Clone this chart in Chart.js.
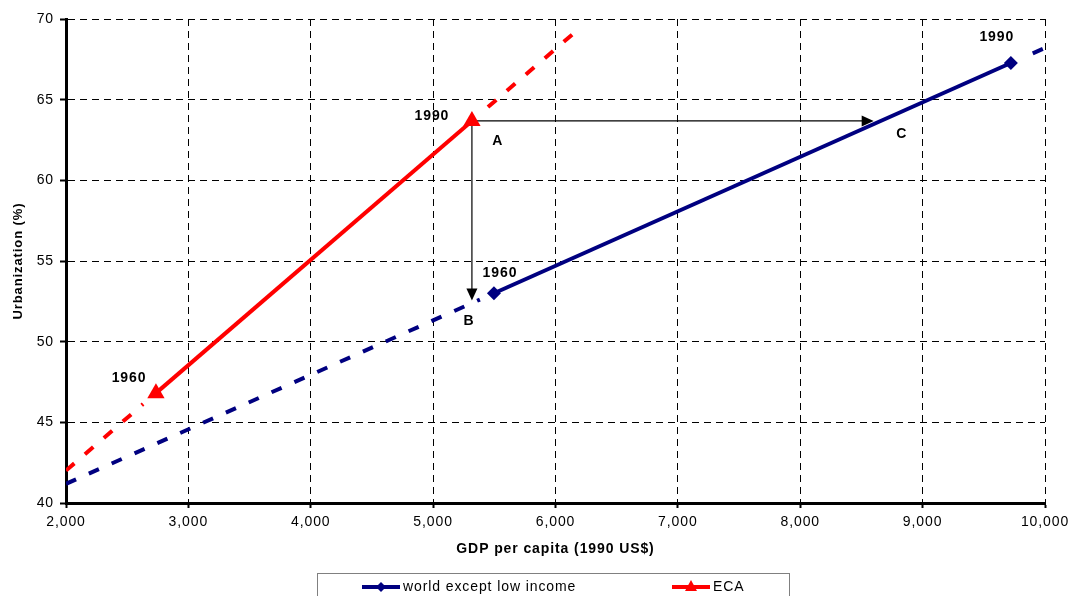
<!DOCTYPE html>
<html>
<head>
<meta charset="utf-8">
<script src="https://cdn.jsdelivr.net/npm/chart.js@4/dist/chart.umd.min.js"></script>
<style>
html,body{margin:0;padding:0;background:#fff;}
#wrap{width:1070px;height:596px;position:relative;}
</style>
</head>
<body>
<div id="wrap"><canvas id="c" width="1070" height="596"></canvas></div>
<script>
// ---- data ----
const worldX = [5497, 9721];
const worldY = [53.0, 67.27];
const ecaX = [2735, 5317];
const ecaY = [46.81, 63.68];
// dashed trend extensions
const worldTrendLowX = [2000, 5382];
const worldTrendLowY = [41.19, 52.61];
const worldTrendHighX = [9900, 10000];
const worldTrendHighY = [67.87, 68.21];
const ecaTrendLowX = [2000, 2630];
const ecaTrendLowY = [42.01, 46.13];
const ecaTrendHighX = [5448, 6200];
const ecaTrendHighY = [64.54, 69.45];
// arrows (start point A, ends)
const arrowA = [5317, 63.68];
const arrowRightEnd = [8600, 63.68];
const arrowDownEnd = [5317, 52.55];
// annotation texts
const noteTexts = ['1990', 'A', 'B', 'C', '1960', '1990', '1960'];
const noteX = [4990, 5529, 5293, 8830, 5546, 9606, 2515];
const noteY = [63.99, 62.44, 51.28, 62.87, 54.25, 68.88, 47.74];
// axes
const xMin = 2000, xMax = 10000, xStep = 1000;
const yMin = 40, yMax = 70, yStep = 5;
const seriesNames = ['world except low income', 'ECA'];

const zip = (xs, ys) => xs.map((x, i) => ({x: x, y: ys[i]}));
const NAVY = '#000080', RED = '#ff0000';
const FONT = 'Arial, "Liberation Sans", sans-serif';
const LS = '0.9px';

const spacingPlugin = {
  id: 'spacing',
  beforeLayout(chart) { chart.ctx.letterSpacing = LS; },
  beforeDraw(chart) { chart.ctx.letterSpacing = LS; }
};

function arrowHead(ctx, x, y, dir) {
  const L = 12, W = 5.5;
  ctx.beginPath();
  if (dir === 'right') { ctx.moveTo(x, y); ctx.lineTo(x - L, y - W); ctx.lineTo(x - L, y + W); }
  else { ctx.moveTo(x, y); ctx.lineTo(x - W, y - L); ctx.lineTo(x + W, y - L); }
  ctx.closePath();
  ctx.fill();
}

const overlayPlugin = {
  id: 'overlay',
  beforeDatasetsDraw(chart) {
    const ctx = chart.ctx, xs = chart.scales.x, ys = chart.scales.y;
    ctx.save();
    const ax = xs.getPixelForValue(arrowA[0]), ay = ys.getPixelForValue(arrowA[1]);
    const rx = xs.getPixelForValue(arrowRightEnd[0]), ry = ys.getPixelForValue(arrowRightEnd[1]);
    const dx = xs.getPixelForValue(arrowDownEnd[0]), dy = ys.getPixelForValue(arrowDownEnd[1]);
    ctx.strokeStyle = '#000'; ctx.fillStyle = '#000'; ctx.lineWidth = 1.2;
    ctx.beginPath(); ctx.moveTo(ax, ay); ctx.lineTo(rx - 10, ry); ctx.stroke();
    arrowHead(ctx, rx, ry, 'right');
    ctx.beginPath(); ctx.moveTo(ax, ay); ctx.lineTo(dx, dy - 10); ctx.stroke();
    arrowHead(ctx, dx, dy, 'down');
    ctx.restore();
  },
  afterDatasetsDraw(chart) {
    const ctx = chart.ctx, xs = chart.scales.x, ys = chart.scales.y;
    ctx.save();
    ctx.letterSpacing = LS;
    ctx.font = 'bold 14px ' + FONT;
    ctx.fillStyle = '#000'; ctx.textAlign = 'center'; ctx.textBaseline = 'middle';
    noteTexts.forEach((t, i) => {
      ctx.fillText(t, xs.getPixelForValue(noteX[i]), ys.getPixelForValue(noteY[i]));
    });
    ctx.restore();
  },
  afterDraw(chart) {
    const ctx = chart.ctx;
    ctx.save();
    ctx.letterSpacing = LS;
    ctx.strokeStyle = '#808080'; ctx.lineWidth = 1;
    ctx.strokeRect(317.5, 573.5, 472, 30);
    const items = [
      {ds: chart.data.datasets[0], x: 362},
      {ds: chart.data.datasets[1], x: 672}
    ];
    ctx.font = '14px ' + FONT;
    ctx.textBaseline = 'middle'; ctx.textAlign = 'left';
    const yy = 587;
    items.forEach(it => {
      ctx.strokeStyle = it.ds.borderColor; ctx.lineWidth = 4;
      ctx.beginPath(); ctx.moveTo(it.x, yy); ctx.lineTo(it.x + 38, yy); ctx.stroke();
      ctx.fillStyle = it.ds.borderColor;
      const cx = it.x + 19;
      ctx.beginPath();
      if (it.ds.pointStyle === 'rectRot') {
        ctx.moveTo(cx, yy - 5); ctx.lineTo(cx + 5, yy); ctx.lineTo(cx, yy + 5); ctx.lineTo(cx - 5, yy);
      } else {
        ctx.moveTo(cx, yy - 7); ctx.lineTo(cx + 6, yy + 4); ctx.lineTo(cx - 6, yy + 4);
      }
      ctx.closePath(); ctx.fill();
      ctx.fillStyle = '#000';
      ctx.fillText(it.ds.label, it.x + 41, yy);
    });
    ctx.restore();
  }
};

const dashedDs = (xs, ys, color) => ({
  label: '', data: zip(xs, ys), borderColor: color, backgroundColor: color,
  borderWidth: 4, borderDash: [11, 14], pointRadius: 0, pointHoverRadius: 0,
  showLine: true, fill: false, tension: 0, borderCapStyle: 'butt', order: 1
});

new Chart(document.getElementById('c'), {
  type: 'scatter',
  data: {
    datasets: [
      {label: seriesNames[0], data: zip(worldX, worldY), borderColor: NAVY, backgroundColor: NAVY,
       borderWidth: 4, showLine: true, pointStyle: 'rectRot', pointRadius: 7, pointBorderWidth: 0, order: 0},
      {label: seriesNames[1], data: zip(ecaX, ecaY), borderColor: RED, backgroundColor: RED,
       borderWidth: 4, showLine: true, pointStyle: 'triangle', pointRadius: 10, pointBorderWidth: 0, order: 0},
      dashedDs(worldTrendLowX, worldTrendLowY, NAVY),
      dashedDs(worldTrendHighX, worldTrendHighY, NAVY),
      dashedDs(ecaTrendLowX, ecaTrendLowY, RED),
      dashedDs(ecaTrendHighX, ecaTrendHighY, RED)
    ]
  },
  options: {
    responsive: false, animation: false,
    layout: {padding: {top: 19, right: 25, left: 0, bottom: 0}},
    plugins: {legend: {display: false}, tooltip: {enabled: false}},
    scales: {
      x: {
        type: 'linear', min: xMin, max: xMax,
        afterFit(s) { s.height = 93; s.paddingLeft = 0; s.paddingRight = 0; },
        ticks: {stepSize: xStep, color: '#000', font: {family: FONT, size: 14}, padding: 6, maxRotation: 0,
          callback: v => v.toLocaleString('en-US')},
        grid: {color: '#000', lineWidth: 1, tickLength: 5, tickWidth: 2, tickColor: '#000', tickBorderDash: []},
        border: {display: true, color: '#000', width: 3, dash: [7, 5]},
        title: {display: true, text: 'GDP per capita (1990 US$)', color: '#000',
          font: {family: FONT, size: 14, weight: 'bold'}, padding: {top: 0, bottom: 38}}
      },
      y: {
        type: 'linear', min: yMin, max: yMax,
        afterFit(s) { s.width = 66; s.paddingTop = 0; s.paddingBottom = 0; },
        ticks: {stepSize: yStep, color: '#000', font: {family: FONT, size: 14}, padding: 6},
        grid: {color: '#000', lineWidth: 1, tickLength: 6, tickWidth: 2, tickColor: '#000', tickBorderDash: []},
        border: {display: true, color: '#000', width: 3, dash: [7, 5]},
        title: {display: true, text: 'Urbanization (%)', color: '#000',
          font: {family: FONT, size: 13, weight: 'bold'}, padding: {top: 11, bottom: 0}}
      }
    }
  },
  plugins: [spacingPlugin, overlayPlugin]
});
</script>
</body>
</html>
